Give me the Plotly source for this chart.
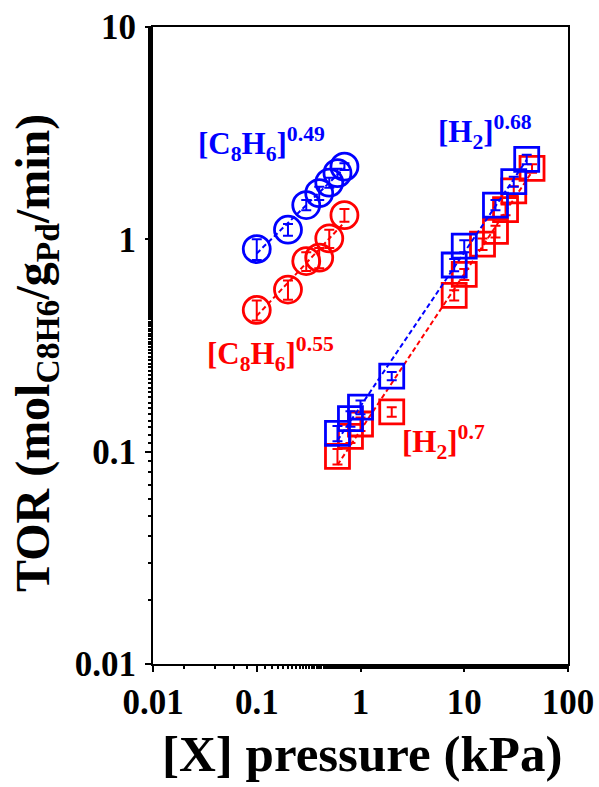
import numpy as np
import plotly.graph_objects as go

# ---------------- data ----------------
# [C8H6] pressure series (circles)
c8_blue_x = [0.1, 0.2, 0.3, 0.4, 0.5, 0.6, 0.7]
c8_blue_y = [0.90, 1.11, 1.45, 1.65, 1.85, 2.05, 2.20]
c8_blue_err = [0.10, 0.07, 0.08, 0.12, 0.10, 0.10, 0.08]

c8_red_x = [0.1, 0.2, 0.3, 0.4, 0.5, 0.7]
c8_red_y = [0.465, 0.58, 0.79, 0.82, 1.01, 1.30]
c8_red_err = [0.05, 0.06, 0.08, 0.09, 0.10, 0.09]

# [H2] pressure series (squares)
h2_blue_x = [0.6, 0.8, 1.0, 2.0, 8, 10, 20, 30, 40]
h2_blue_y = [0.122, 0.143, 0.162, 0.227, 0.757, 0.93, 1.45, 1.87, 2.38]
h2_blue_err = [0.010, 0.012, 0.012, 0.010, 0.05, 0.06, 0.08, 0.10, 0.12]

h2_red_x = [0.6, 0.8, 1.0, 2.0, 8, 10, 15, 20, 25, 30, 45]
h2_red_y = [0.095, 0.118, 0.135, 0.154, 0.545, 0.684, 0.95, 1.09, 1.38, 1.69, 2.16]
h2_red_err = [0.008, 0.008, 0.010, 0.008, 0.03, 0.04, 0.06, 0.07, 0.08, 0.09, 0.10]

x_tickvals = [0.01, 0.1, 1, 10, 100]
x_ticktext = ["0.01", "0.1", "1", "10", "100"]
y_tickvals = [0.01, 0.1, 1, 10]
y_ticktext = ["0.01", "0.1", "1", "10"]

labels = {
    "c8_blue": "[C<sub>8</sub>H<sub>6</sub>]<sup>0.49</sup>",
    "c8_red": "[C<sub>8</sub>H<sub>6</sub>]<sup>0.55</sup>",
    "h2_blue": "[H<sub>2</sub>]<sup>0.68</sup>",
    "h2_red": "[H<sub>2</sub>]<sup>0.7</sup>",
}

BLUE = "#0000FF"
RED = "#FF0000"
FONT = "Liberation Serif, Times New Roman, serif"


def fit_line(xs, ys):
    lx, ly = np.log10(xs), np.log10(ys)
    k, b = np.polyfit(lx, ly, 1)
    xx = np.array([min(xs), max(xs)])
    return xx, 10 ** (b + k * np.log10(xx))


fig = go.Figure()


def add_series(xs, ys, errs, color, symbol, size):
    fx, fy = fit_line(xs, ys)
    fig.add_trace(go.Scatter(x=fx, y=fy, mode="lines",
                             line=dict(color=color, width=2, dash="5px,3px"),
                             showlegend=False, hoverinfo="skip"))
    fig.add_trace(go.Scatter(
        x=xs, y=ys, mode="markers",
        marker=dict(symbol=symbol, size=size, color="rgba(255,255,255,0)",
                    line=dict(color=color, width=2.8)),
        error_y=dict(type="data", array=errs, color=color, thickness=2, width=5),
        showlegend=False))


add_series(c8_red_x, c8_red_y, c8_red_err, RED, "circle", 27)
add_series(h2_red_x, h2_red_y, h2_red_err, RED, "square", 24)
add_series(c8_blue_x, c8_blue_y, c8_blue_err, BLUE, "circle", 27)
add_series(h2_blue_x, h2_blue_y, h2_blue_err, BLUE, "square", 24)

L, R, T, B = 153, 31, 27, 123
W, H = 599, 787
pw, ph = W - L - R, H - T - B


def px2paper(px, py):
    return (px - L) / pw, (H - B - py) / ph


ann_specs = [
    ("c8_blue", BLUE, 261, 144),
    ("c8_red", RED, 270, 354),
    ("h2_blue", BLUE, 485, 132),
    ("h2_red", RED, 443, 442),
]
for key, col, px, py in ann_specs:
    ax_, ay_ = px2paper(px, py)
    fig.add_annotation(x=ax_, y=ay_, xref="paper", yref="paper", text=labels[key],
                       showarrow=False, xanchor="center", yanchor="middle",
                       font=dict(family=FONT, size=31, color=col, weight="bold"))

# axis titles as annotations
tx, ty = px2paper(362, 754)
fig.add_annotation(x=tx, y=ty, xref="paper", yref="paper", text="[X] pressure (kPa)",
                   showarrow=False, xanchor="center", yanchor="middle",
                   font=dict(family=FONT, size=51, color="black", weight="bold"))
yx, yy = px2paper(36, 353)
fig.add_annotation(x=yx, y=yy, xref="paper", yref="paper",
                   text="TOR (mol<sub>C8H6</sub>/g<sub>Pd</sub>/min)", textangle=-90,
                   showarrow=False, xanchor="center", yanchor="middle",
                   font=dict(family=FONT, size=48, color="black", weight="bold"))

axis_common = dict(
    showline=True, linecolor="black", linewidth=2, mirror=True,
    ticks="outside", ticklen=6, tickwidth=2, tickcolor="black",
    showgrid=False, zeroline=False, automargin=False,
    tickfont=dict(family=FONT, size=35, color="black", weight="bold"),
    minor=dict(ticks="outside", ticklen=3, tickwidth=1.5, tickcolor="black", showgrid=False),
)

fig.update_xaxes(type="log", range=[-2, 2], tickvals=x_tickvals, ticktext=x_ticktext,
                 **axis_common)
fig.update_yaxes(type="log", range=[-2, 1], tickvals=y_tickvals, ticktext=y_ticktext,
                 ticklabelstandoff=2, **axis_common)

fig.update_layout(
    width=W, height=H,
    margin=dict(l=L, r=R, t=T, b=B, autoexpand=False),
    plot_bgcolor="white", paper_bgcolor="white",
    showlegend=False,
)

fig.write_html("out.html",
               config={"displayModeBar": False},
               post_script="document.body.style.margin='0px';document.body.style.overflow='hidden';")
